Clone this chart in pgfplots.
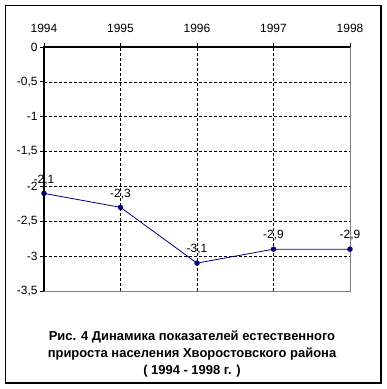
\documentclass[border=0pt]{standalone}
\usepackage{fontspec}
\setmainfont{Liberation Sans}
\usepackage{pgfplots}
\pgfplotsset{compat=1.18}
\definecolor{navyline}{RGB}{0,0,128}
\begin{document}
\begin{tikzpicture}
\path[use as bounding box, fill=white] (0bp,0bp) rectangle (387bp,-389bp);
\draw[line width=1.5bp] (5.5bp,-5.5bp) rectangle (381bp,-383bp);
\begin{axis}[
  at={(44bp,-47bp)}, anchor=north west,
  scale only axis, width=306bp, height=244bp,
  xmin=1994, xmax=1998, ymin=-3.5, ymax=0,
  xtick={1994,1995,1996,1997,1998},
  ytick={-3.5,-3,-2.5,-2,-1.5,-1,-0.5,0},
  xtick pos=upper, xticklabel pos=upper,
  ytick pos=left,
  tick align=outside, major tick length=4bp,
  tick style={black, line width=0.8bp},
  grid=major,
  major grid style={black, dash pattern=on 3bp off 2bp, line width=0.7bp},
  axis line style={draw=none},
  ticklabel style={font=\fontsize{12}{12}\selectfont},
  xticklabel style={yshift=7bp},
  yticklabel style={xshift=1bp},
  /pgf/number format/assume math mode=true,
  /pgf/number format/use comma,
  /pgf/number format/1000 sep={},
  clip=false,
]
\draw[gray, line width=1bp] (rel axis cs:1,1) -- (rel axis cs:1,0) -- (rel axis cs:0,0);
\draw[black, line width=1.2bp] (rel axis cs:0,0) -- (rel axis cs:0,1) -- (rel axis cs:1,1);
\addplot[navyline, line width=0.8bp, mark=*, mark size=2.3bp, mark options={fill=navyline, solid},
  nodes near coords,
  nodes near coords style={black, anchor=south, font=\fontsize{12}{12}\selectfont, yshift=5bp,
    /pgf/number format/fixed, /pgf/number format/precision=1, /pgf/number format/fixed zerofill,
    /pgf/number format/use comma, /pgf/number format/assume math mode=true}]
  coordinates {(1994,-2.1) (1995,-2.3) (1996,-3.1) (1997,-2.9) (1998,-2.9)};
\end{axis}
\node[align=center, font=\fontsize{13}{17.5}\selectfont\bfseries] at (192bp,-354bp)
  {Рис. 4 Динамика показателей естественного\\прироста населения Хворостовского района\\( 1994 - 1998 г. )};
\end{tikzpicture}
\end{document}
